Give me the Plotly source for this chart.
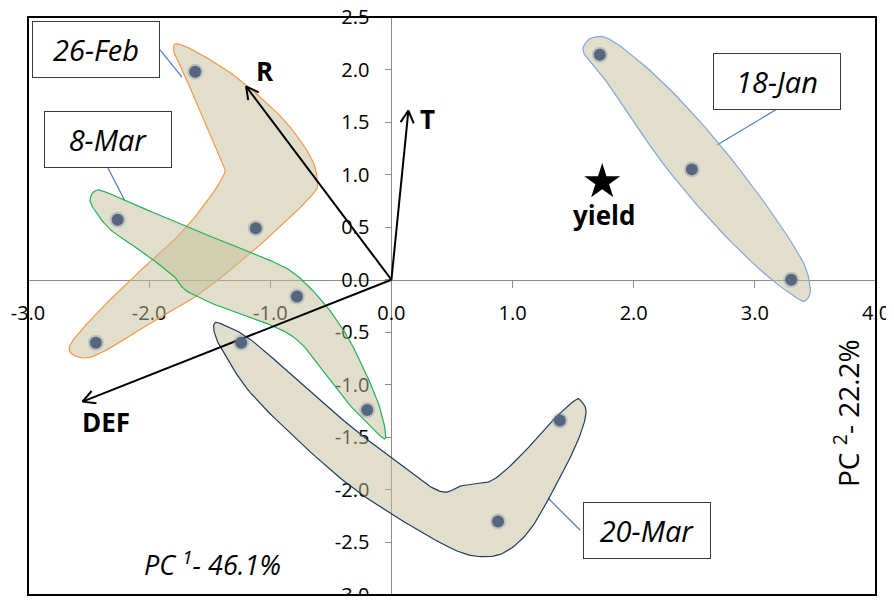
import numpy as np
import plotly.graph_objects as go

# ---------------- data ----------------
groups = ["18-Jan", "26-Feb", "8-Mar", "20-Mar"]
pc1_18jan = [1.72, 2.48, 3.30]
pc2_18jan = [2.14, 1.05, 0.00]
pc1_26feb = [-1.62, -1.12, -2.44]
pc2_26feb = [1.98, 0.49, -0.60]
pc1_8mar = [-2.26, -0.78, -0.20]
pc2_8mar = [0.57, -0.16, -1.24]
pc1_20mar = [-1.24, 0.88, 1.39]
pc2_20mar = [-0.60, -2.30, -1.34]

loading_names = ["R", "T", "DEF"]
loading_pc1 = [-1.20, 0.14, -2.55]
loading_pc2 = [1.84, 1.61, -1.16]

yield_pc1 = [1.74]
yield_pc2 = [0.93]

x_tick_vals = [-3, -2, -1, 0, 1, 2, 3, 4]
y_tick_vals = [-3.0, -2.5, -2.0, -1.5, -1.0, -0.5, 0.0, 0.5, 1.0, 1.5, 2.0, 2.5]

# ---------------- layout constants ----------------
# page body has an 8px margin, so the figure is 16px smaller than the window
W, H = 878, 588
ML, MR, MT, MB = 20, 10, 9, 1
XR = [-3, 4]
YR = [-3, 2.5]
PW, PH = W - ML - MR, H - MT - MB
SX = PW / (XR[1] - XR[0])
SY = PH / (YR[1] - YR[0])

FILL = "rgba(196,189,151,0.5)"
FONT = "Open Sans"

# hand-drawn group outlines (callout shapes, data coordinates)
outline_18jan = [(1.586, 2.218), (1.669, 2.307), (1.834, 2.266), (2.219, 1.901), (2.631, 1.394),
                 (3.043, 0.792), (3.373, 0.222), (3.456, -0.063), (3.428, -0.19), (3.346, -0.174),
                 (3.043, 0.095), (2.631, 0.570), (2.219, 1.141), (1.806, 1.838), (1.614, 2.107)]
outline_26feb = [(-1.754, 2.243), (-1.493, 2.091), (-1.218, 1.87), (-0.888, 1.521), (-0.668, 1.172),
                 (-0.613, 0.951), (-0.641, 0.824), (-0.888, 0.539), (-1.163, 0.254), (-1.575, -0.127),
                 (-1.988, -0.412), (-2.345, -0.665), (-2.538, -0.745), (-2.66, -0.65), (-2.482, -0.38),
                 (-2.125, 0.031), (-1.713, 0.475), (-1.40, 0.96), (-1.41, 1.141), (-1.575, 1.585),
                 (-1.713, 1.965), (-1.795, 2.17)]
outline_8mar = [(-2.441, 0.849), (-2.373, 0.84), (-2.18, 0.745), (-1.63, 0.475), (-1.08, 0.222),
                (-0.806, 0.063), (-0.558, -0.222), (-0.365, -0.539), (-0.2, -0.919), (-0.091, -1.236),
                (-0.049, -1.505), (-0.146, -1.426), (-0.311, -1.236), (-0.53, -0.919), (-0.75, -0.602),
                (-0.971, -0.444), (-1.355, -0.285), (-1.685, -0.111), (-1.795, 0.031), (-2.043, 0.254),
                (-2.318, 0.475), (-2.469, 0.697), (-2.482, 0.792)]
outline_20mar = [(-1.466, -0.428), (-1.41, -0.418), (-1.163, -0.570), (-0.75, -0.982), (-0.338, -1.394),
                 (0.019, -1.711), (0.294, -1.949), (0.445, -2.021), (0.569, -1.964), (0.707, -1.939),
                 (0.844, -1.901), (1.064, -1.679), (1.311, -1.362), (1.504, -1.156), (1.559, -1.147),
                 (1.606, -1.267), (1.531, -1.553), (1.339, -1.996), (1.146, -2.376), (0.954, -2.582),
                 (0.761, -2.636), (0.514, -2.567), (0.074, -2.281), (-0.338, -1.964), (-0.75, -1.552),
                 (-1.163, -1.077), (-1.383, -0.697), (-1.452, -0.539)]
outline_colors = {"18-Jan": "#7fa6da", "26-Feb": "#f79646", "8-Mar": "#1fb356", "20-Mar": "#1f3b63"}


def closed_spline(pts, n=10):
    P = np.array(pts, dtype=float) * np.array([SX, SY])
    N = len(P)
    out = []
    for i in range(N):
        p0, p1, p2, p3 = P[i - 1], P[i], P[(i + 1) % N], P[(i + 2) % N]
        for t in np.linspace(0, 1, n, endpoint=False):
            t2, t3 = t * t, t * t * t
            out.append(0.5 * ((2 * p1) + (-p0 + p2) * t + (2 * p0 - 5 * p1 + 4 * p2 - p3) * t2
                              + (-p0 + 3 * p1 - 3 * p2 + p3) * t3))
    out.append(out[0])
    out = np.array(out) / np.array([SX, SY])
    return out[:, 0], out[:, 1]


fig = go.Figure()

# group outlines
for name, pts in [("26-Feb", outline_26feb), ("8-Mar", outline_8mar),
                  ("20-Mar", outline_20mar), ("18-Jan", outline_18jan)]:
    hx, hy = closed_spline(pts)
    fig.add_trace(go.Scatter(x=hx, y=hy, mode="lines", fill="toself", fillcolor=FILL,
                             line=dict(color=outline_colors[name], width=1.2),
                             hoverinfo="skip", showlegend=False))

# loading arrows with open heads (computed in pixel space)
head_len, head_ang = 14, np.deg2rad(28)
for name, vx, vy in zip(loading_names, loading_pc1, loading_pc2):
    d = np.array([vx * SX, vy * SY])
    d = d / np.linalg.norm(d)
    xs, ys = [0, vx], [0, vy]
    hxs, hys = [], []
    for s in (1, -1):
        c, sn = np.cos(s * head_ang), np.sin(s * head_ang)
        r = np.array([c * (-d[0]) - sn * (-d[1]), sn * (-d[0]) + c * (-d[1])])
        hxs += [vx, vx + r[0] * head_len / SX, None]
        hys += [vy, vy + r[1] * head_len / SY, None]
    fig.add_trace(go.Scatter(x=xs + [None] + hxs, y=ys + [None] + hys, mode="lines",
                             line=dict(color="black", width=2), hoverinfo="skip", showlegend=False))

# sample points
for name, px, py in [("18-Jan", pc1_18jan, pc2_18jan), ("26-Feb", pc1_26feb, pc2_26feb),
                     ("8-Mar", pc1_8mar, pc2_8mar), ("20-Mar", pc1_20mar, pc2_20mar)]:
    fig.add_trace(go.Scatter(x=px, y=py, mode="markers", name=name,
                             marker=dict(size=16, color="rgba(120,140,170,0.35)", line=dict(width=0)),
                             hoverinfo="skip", showlegend=False))
    fig.add_trace(go.Scatter(x=px, y=py, mode="markers", name=name,
                             marker=dict(size=12, color="#56667e", line=dict(width=0)),
                             showlegend=False))

# yield star
fig.add_trace(go.Scatter(x=yield_pc1, y=yield_pc2, mode="markers",
                         marker=dict(symbol="star", size=27, color="black"), showlegend=False))

annotations = []
# loading labels
label_pos = {"R": (-1.043, 1.982), "T": (0.295, 1.532), "DEF": (-2.357, -1.356)}
for name in loading_names:
    lx, ly = label_pos[name]
    annotations.append(dict(x=lx, y=ly, xref="x", yref="y", text="<b>%s</b>" % name, showarrow=False,
                            xanchor="center", yanchor="middle",
                            font=dict(family=FONT, size=26, color="black")))
annotations.append(dict(x=1.754, y=0.62, xref="x", yref="y", text="<b>yield</b>", showarrow=False,
                        xanchor="center", yanchor="middle",
                        font=dict(family=FONT, size=26, color="black")))

# callout boxes (paper coords) and their leader lines
callouts = {"26-Feb": (0.0805, 0.943), "8-Mar": (0.0949, 0.788),
            "18-Jan": (0.883, 0.889), "20-Mar": (0.7305, 0.1116)}
leaders = {"26-Feb": ((0.1557, 0.943), (0.1816, 0.896)),
           "8-Mar": ((0.0943, 0.7388), (0.1144, 0.6817)),
           "18-Jan": ((0.8833, 0.8408), (0.8125, 0.7785)),
           "20-Mar": ((0.651, 0.1125), (0.6132, 0.1678))}
shapes = []
for name in groups:
    cx, cy = callouts[name]
    annotations.append(dict(x=cx, y=cy, xref="paper", yref="paper", text="<i>%s</i>" % name,
                            showarrow=False, xanchor="center", yanchor="middle",
                            width=126, height=55, borderpad=0, borderwidth=1,
                            bordercolor="#3a3a3a", bgcolor="white", align="center",
                            font=dict(family=FONT, size=29, color="black")))
    (x0, y0), (x1, y1) = leaders[name]
    shapes.append(dict(type="line", xref="paper", yref="paper", x0=x0, y0=y0, x1=x1, y1=y1,
                       line=dict(color="#4a7ebb", width=1.2), layer="below"))

# axis titles
annotations.append(dict(x=0.218, y=0.055, xref="paper", yref="paper",
                        text="<i>PC <sup>1</sup>- 46.1%</i>", showarrow=False,
                        xanchor="center", yanchor="middle",
                        font=dict(family=FONT, size=27, color="black")))
annotations.append(dict(x=0.966, y=0.315, xref="paper", yref="paper", textangle=-90,
                        text="PC <sup>2</sup>- 22.2%", showarrow=False,
                        xanchor="center", yanchor="middle",
                        font=dict(family=FONT, size=28, color="black")))

# plot-area frame
shapes.append(dict(type="rect", xref="paper", yref="paper", x0=0, y0=0, x1=1, y1=1,
                   line=dict(color="black", width=2), layer="above"))

x_pos = (0 - YR[0]) / (YR[1] - YR[0])
y_pos = (0 - XR[0]) / (XR[1] - XR[0])

fig.update_layout(
    width=W, height=H,
    margin=dict(l=ML, r=MR, t=MT, b=MB, autoexpand=False),
    paper_bgcolor="white", plot_bgcolor="white",
    showlegend=False,
    xaxis=dict(range=XR, domain=[0, 1], anchor="free", position=x_pos, automargin=False,
               tickvals=x_tick_vals, ticktext=["%.1f" % v for v in x_tick_vals],
               showgrid=False, zeroline=False, showline=True, linecolor="#8c8c8c", linewidth=1.2,
               ticks="outside", ticklen=7, tickcolor="#8c8c8c", tickwidth=1.2,
               ticklabelstandoff=8, ticklabeloverflow="allow", layer="below traces",
               tickfont=dict(family=FONT, size=20, color="black")),
    yaxis=dict(range=YR, domain=[0, 1], anchor="free", position=y_pos, automargin=False,
               tickvals=y_tick_vals, ticktext=["%.1f" % v for v in y_tick_vals],
               showgrid=False, zeroline=False, showline=True, linecolor="#8c8c8c", linewidth=1.2,
               ticks="outside", ticklen=6, tickcolor="#8c8c8c", tickwidth=1.2,
               ticklabelstandoff=12, ticklabeloverflow="allow", layer="below traces",
               tickfont=dict(family=FONT, size=20, color="black")),
    annotations=annotations,
    shapes=shapes,
)

fig.write_html("out.html")
